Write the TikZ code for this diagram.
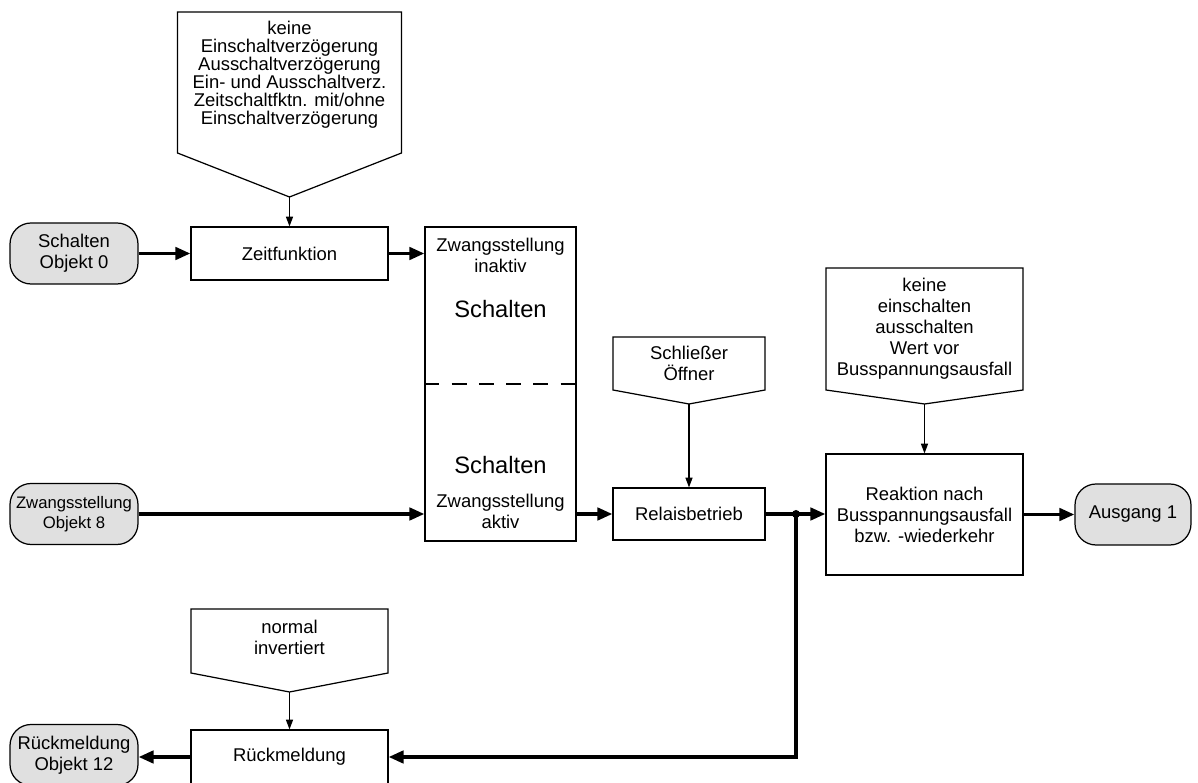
\documentclass[tikz,border=0pt]{standalone}
\usepackage{fontspec}
\setmainfont{Liberation Sans}
\usetikzlibrary{arrows.meta}

\tikzset{
  outline/.style={draw, line width=0.7pt},
  block/.style={outline, align=center, inner sep=2pt},
  obj/.style={block, fill=black!12, rounded corners=0.42cm, inner sep=0pt,
    minimum width=2.56cm, minimum height=1.22cm},
  txt/.style={align=center, inner sep=0pt},
  bigtxt/.style={txt, font=\fontsize{13.5}{16}\selectfont},
  flow/.style={line width=2pt, -{Triangle[length=8.5pt,width=7pt]}},
  param/.style={line width=0.6pt, -{Triangle[length=5.5pt,width=4pt]}},
}

\begin{document}
\begin{tikzpicture}[x=0.02cm, y=-0.02cm, every node/.style={font=\fontsize{10.5}{12}\selectfont}]
  \useasboundingbox (0,0) rectangle (1198,783);

  % bus objects
  \node[obj] (sch0) at (74,253.5) {Schalten\\Objekt 0};
  \node[obj, font=\fontsize{9.5}{11.5}\selectfont] (zw8) at (74,514) {Zwangsstellung\\Objekt 8};
  \node[obj] (rm12) at (74,755) {Rückmeldung\\Objekt 12};
  \node[obj, minimum width=2.32cm] (aus1) at (1133,514.5) {Ausgang 1};

  % function blocks
  \node[block, minimum width=3.94cm, minimum height=1.06cm] (zeit) at (289.5,253.5) {Zeitfunktion};
  \node[block, minimum width=3.02cm, minimum height=6.28cm] (zw) at (500.5,384) {};
  \node[block, minimum width=3.04cm, minimum height=1.04cm] (relais) at (689,514) {Relaisbetrieb};
  \node[block, minimum width=3.94cm, minimum height=2.42cm] (reakt) at (924.5,514.5)
    {Reaktion nach\\Busspannungsausfall\\bzw. -wiederkehr};
  \node[block, minimum width=3.94cm, minimum height=1.08cm] (rueck) at (289.5,757) {Rückmeldung};

  % forced operation block, split in two halves
  \draw[line width=0.7pt, dash pattern=on 8.5pt off 7pt] (zw.west) -- (zw.east);
  \node[txt] (inaktiv) at (500.5,255) {Zwangsstellung\\inaktiv};
  \node[bigtxt] (schoben) at (500.5,309) {Schalten};
  \node[bigtxt] (schunten) at (500.5,465) {Schalten};
  \node[txt] (aktiv) at (500.5,511) {Zwangsstellung\\aktiv};

  % parameter choices
  \draw[outline] (177.5,12) -- (401.5,12) -- (401.5,153) -- (289.5,197) coordinate (zeitopt-tip)
    -- (177.5,153) -- cycle;
  \node[txt, font=\fontsize{10.5}{10.2}\selectfont] (zeitopt) at (289.5,75)
    {keine\\Einschaltverzögerung\\Ausschaltverzögerung\\Ein- und Ausschaltverz.\\Zeitschaltfktn. mit/ohne\\Einschaltverzögerung};

  \draw[outline] (613,337) -- (765,337) -- (765,390) -- (689,404) coordinate (kontakt-tip)
    -- (613,390) -- cycle;
  \node[txt] (kontakt) at (689,363) {Schließer\\Öffner};

  \draw[outline] (826,268) -- (1023,268) -- (1023,390) -- (924.5,404) coordinate (busopt-tip)
    -- (826,390) -- cycle;
  \node[txt] (busopt) at (924.5,329) {keine\\einschalten\\ausschalten\\Wert vor\\Busspannungsausfall};

  \draw[outline] (191,609) -- (388,609) -- (388,673) -- (289.5,692) coordinate (invert-tip)
    -- (191,673) -- cycle;
  \node[txt] (invert) at (289.5,637) {normal\\invertiert};

  % signal flow
  \coordinate (junc) at (796,514);
  \draw[flow] (sch0.east) -- (zeit.west);
  \draw[flow] (zeit.east) -- (zeit.east -| zw.west);
  \draw[flow] (zw8.east) -- (zw8.east -| zw.west);
  \draw[flow] (relais.west -| zw.east) -- (relais.west);
  \draw[flow] (relais.east) -- (relais.east -| reakt.west);
  \draw[flow] (reakt.east) -- (aus1.west);
  \draw[flow] (junc) |- (rueck.east);
  \draw[flow] (rueck.west) -- (rueck.west -| rm12.east);
  \fill (junc) circle[radius=0.08cm];

  % parameter inputs
  \draw[param] (zeitopt-tip) -- (zeit.north);
  \draw[param] (kontakt-tip) -- (relais.north);
  \draw[param] (busopt-tip) -- (reakt.north);
  \draw[param] (invert-tip) -- (rueck.north);
\end{tikzpicture}
\end{document}
